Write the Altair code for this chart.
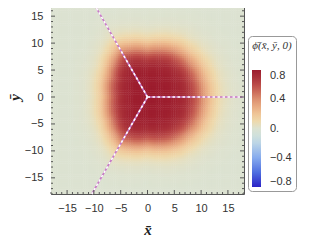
import altair as alt
import numpy as np
import pandas as pd

# --- values -----------------------------------------------------------------
# half-height contour radius of the field and width of its fall-off, by direction
contour_angles = [0, 30, 60, 90, 120, 150, 180, 210, 240, 270, 300, 330]
contour_radii = [10.2, 10.2, 9.8, 8.7, 9.8, 8.0, 7.2, 8.0, 9.6, 8.6, 9.6, 10.2]
edge_widths = [3.1, 3.0, 2.8, 2.5, 2.7, 2.5, 2.4, 2.5, 2.7, 2.5, 2.8, 3.0]
phi_max = 0.8

# strings (dashed lines) leaving the origin
string_x_end = [18.0, -10.39, -10.39]
string_y_end = [0.0, 18.0, -18.0]

# axis ticks
major_ticks = [-15, -10, -5, 0, 5, 10, 15]
minor_ticks = [-18, -17, -16, -14, -13, -12, -11, -9, -8, -7, -6, -4, -3, -2, -1,
               1, 2, 3, 4, 6, 7, 8, 9, 11, 12, 13, 14, 16, 17, 18]

# colour bar
legend_values = [-0.8, -0.4, 0.0, 0.4, 0.8]
color_stops = [-0.8, -0.6, -0.4, -0.2, -0.1, 0.0, 0.05, 0.1, 0.2, 0.3, 0.4, 0.5,
               0.6, 0.7, 0.8]
color_range = ["#2b23c6", "#4f6fe0", "#86abee", "#bcd5e6", "#cfe0dc", "#dce2d1",
               "#e5dfc0", "#eed9ac", "#efc597", "#e8ab83", "#dc9070", "#cc6c5a",
               "#bb4b48", "#a93139", "#9c1c2d"]

# --- field grid ----------------------------------------------------------------
step = 0.4
overlap = 0.08
edges = np.arange(-18, 18 - 1e-9, step)
X0, Y0 = np.meshgrid(edges, edges)
XC, YC = X0 + step / 2, Y0 + step / 2
r = np.hypot(XC, YC)
th = np.degrees(np.arctan2(YC, XC)) % 360
R = np.interp(th, contour_angles + [360], contour_radii + [contour_radii[0]])
Wd = np.interp(th, contour_angles + [360], edge_widths + [edge_widths[0]])
phi = phi_max * 0.5 * (1 - np.tanh((r - R) / Wd))
grid = pd.DataFrame({
    "x0": X0.ravel(), "x1": np.minimum(X0 + step + overlap, 18).ravel(),
    "y0": Y0.ravel(), "y1": np.minimum(Y0 + step + overlap, 18).ravel(),
    "phi": phi.ravel(),
})

strings = pd.DataFrame({"x": [0.0] * 3, "y": [0.0] * 3,
                        "x2": string_x_end, "y2": string_y_end})
maj = pd.DataFrame({"t": major_ticks})
mino = pd.DataFrame({"t": minor_ticks})

W, H = 193, 194
FRAME = "#555555"
xs = alt.Scale(domain=[-18, 18], nice=False, zero=False)
ys = alt.Scale(domain=[-18, 18], nice=False, zero=False)
cscale = alt.Scale(domain=color_stops, range=color_range, interpolate="rgb")

x_axis = alt.Axis(
    values=major_ticks, ticks=False, domain=False, grid=False,
    labelOverlap=False, labelPadding=8, labelFontSize=11, labelColor="#333333",
    labelFont="Liberation Sans",
    title="x\u0304", titleFont="Liberation Serif", titleFontStyle="italic",
    titleFontWeight="bold", titleFontSize=15, titlePadding=9,
    titleColor="#222222")
y_axis = alt.Axis(
    values=major_ticks, ticks=False, domain=False, grid=False,
    labelOverlap=False, labelPadding=8, labelFontSize=11, labelColor="#333333",
    labelFont="Liberation Sans",
    title="\u0233", titleFont="Liberation Serif", titleFontStyle="italic",
    titleFontWeight="bold", titleFontSize=15, titlePadding=2,
    titleColor="#222222")

field = alt.Chart(grid).mark_rect().encode(
    x=alt.X("x0:Q", scale=xs, axis=x_axis),
    x2="x1:Q",
    y=alt.Y("y0:Q", scale=ys, axis=y_axis),
    y2="y1:Q",
    color=alt.Color("phi:Q", scale=cscale, legend=alt.Legend(
        type="gradient",
        title="\u03d5\u0304(x\u0304, \u0233, 0)", titleFont="Liberation Serif",
        titleFontStyle="italic", titleFontWeight="normal", titleFontSize=11,
        titleColor="#333333", titleAnchor="middle", titlePadding=19,
        values=legend_values, gradientLength=117, gradientThickness=9,
        gradientStrokeWidth=0,
        labelFont="Liberation Sans", labelFontSize=11, labelColor="#333333",
        labelOffset=9, labelBaseline="middle", labelOverlap=False,
        labelExpr="datum.value == 0 ? '0.' : format(datum.value, '.1f')",
        orient="none", legendX=197, legendY=36, padding=4,
        strokeColor="#999999", cornerRadius=4, fillColor="white")),
)

pink = alt.Chart(strings).mark_rule(color="#c879c8", strokeWidth=1.6).encode(
    x=alt.X("x:Q", scale=xs, axis=x_axis), y=alt.Y("y:Q", scale=ys, axis=y_axis),
    x2="x2:Q", y2="y2:Q")
white = alt.Chart(strings).mark_rule(color="white", strokeWidth=1.6,
                                     strokeDash=[2.5, 2.5]).encode(
    x=alt.X("x:Q", scale=xs, axis=x_axis), y=alt.Y("y:Q", scale=ys, axis=y_axis),
    x2="x2:Q", y2="y2:Q")


def ticks(df, L):
    b = alt.Chart(df).mark_rule(color=FRAME, strokeWidth=1).encode(
        x=alt.X("t:Q", scale=xs, axis=x_axis), y=alt.value(H), y2=alt.value(H - L))
    t = alt.Chart(df).mark_rule(color=FRAME, strokeWidth=1).encode(
        x=alt.X("t:Q", scale=xs, axis=x_axis), y=alt.value(0), y2=alt.value(L))
    l = alt.Chart(df).mark_rule(color=FRAME, strokeWidth=1).encode(
        y=alt.Y("t:Q", scale=ys, axis=y_axis), x=alt.value(0), x2=alt.value(L))
    rr = alt.Chart(df).mark_rule(color=FRAME, strokeWidth=1).encode(
        y=alt.Y("t:Q", scale=ys, axis=y_axis), x=alt.value(W), x2=alt.value(W - L))
    return [b, t, l, rr]


chart = alt.layer(field, pink, white, *ticks(maj, 4), *ticks(mino, 2)).properties(
    width=W, height=H,
    autosize=alt.AutoSizeParams(type="none"),
    padding={"left": 43, "top": -8, "right": 57, "bottom": 42},
).configure_view(stroke=FRAME, strokeWidth=1).configure_axis(labelOverlap=False)

chart.save("out.html", embed_options={"renderer": "svg", "actions": False})
